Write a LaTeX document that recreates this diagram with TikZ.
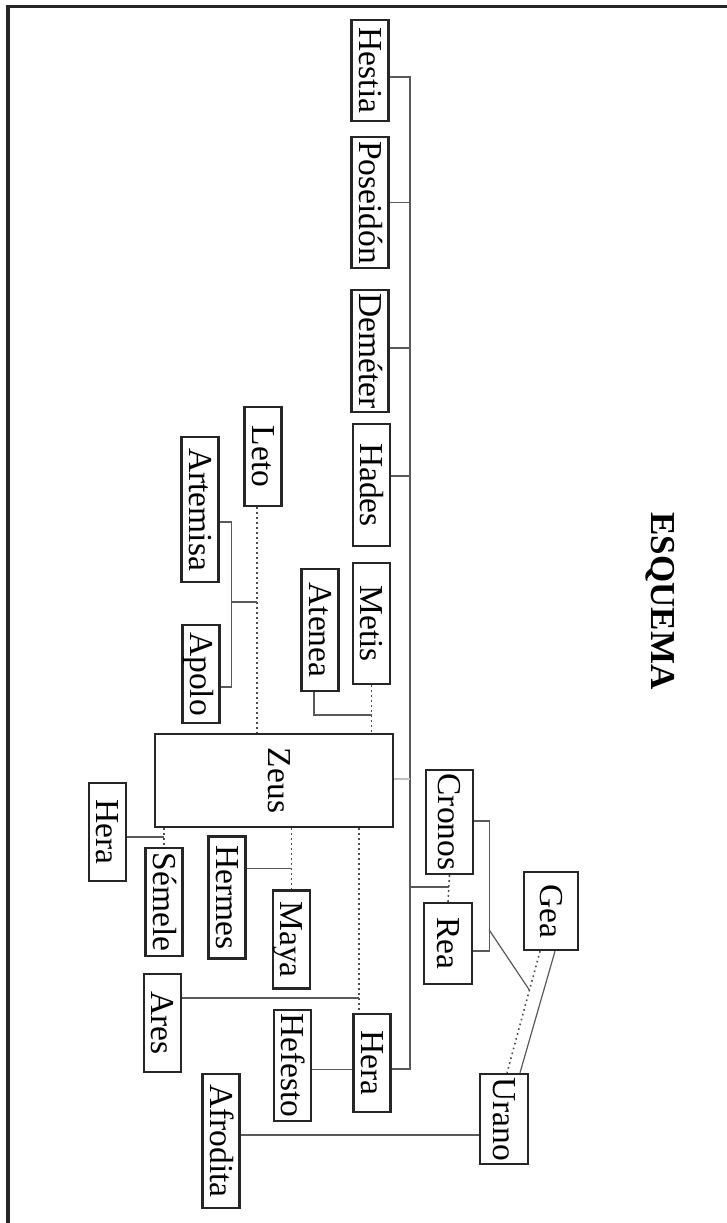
\documentclass[tikz,border=0pt]{standalone}
\usepackage{fontspec}
\setmainfont{Liberation Serif}
\usetikzlibrary{calc}
\begin{document}
\begin{tikzpicture}[x=1pt,y=-1pt,
  god/.style={draw=black!85, line width=2.4pt, rotate=-90, inner sep=0pt,
    minimum height=37pt, text height=22pt, text depth=0pt,
    font=\fontsize{33.5}{40}\selectfont},
  link/.style={draw=black!65, line width=1.2pt},
  faint/.style={draw=black!25, line width=1.2pt},
  dotline/.style={draw=black!70, line width=1.6pt, dash pattern=on 1.6pt off 3.4pt}]
\useasboundingbox (0,0) rectangle (727,1223);
\draw[line width=3.2pt, black!85] (8,1223) -- (8,6.5) -- (727,6.5);

% title
\node[rotate=-90, inner sep=0pt, text height=23pt, text depth=0pt,
  font=\fontsize{35}{40}\selectfont\bfseries] (title) at (662.5,601) {ESQUEMA};

% nodes
\node[god, minimum width=101pt] (Hestia)   at (370,70.5)  {Hestia};
\node[god, minimum width=131pt] (Poseidon) at (370,202.5) {Poseidón};
\node[god, minimum width=122pt] (Demeter)  at (370,351)   {Deméter};
\node[god, minimum width=122pt] (Hades)    at (371.5,485) {Hades};
\node[god, minimum width=121pt] (Metis)    at (371.5,623.5) {Metis};
\node[god, minimum width=99pt]  (Leto)     at (263,456.5) {Leto};
\node[god, minimum width=145pt] (Artemisa) at (200,509.5) {Artemisa};
\node[god, minimum width=98pt]  (Apolo)    at (201,674)   {Apolo};
\node[god, minimum width=122pt] (Atenea)   at (320,630)   {Atenea};
\node[god, minimum width=93pt, minimum height=238pt, text depth=10pt] (Zeus) at (274,780.5) {Zeus\hspace{14pt}};
\node[god, minimum width=98pt]  (HeraL)    at (107.5,832) {Hera};
\node[god, minimum width=108pt] (Semele)   at (164,902)   {Sémele};
\node[god, minimum width=122pt] (Hermes)   at (227,897.5) {Hermes};
\node[god, minimum width=98pt]  (Maya)     at (291.5,939.5) {Maya};
\node[god, minimum width=98pt]  (Ares)     at (162.5,1023) {Ares};
\node[god, minimum width=111pt] (Hefesto)  at (292.5,1065.5) {Hefesto};
\node[god, minimum width=98pt]  (HeraR)    at (372,1063)  {Hera};
\node[god, minimum width=134pt] (Afrodita) at (221,1141)  {Afrodita};
\node[god, minimum width=104pt, minimum height=47pt] (Cronos) at (449.5,822) {Cronos};
\node[god, minimum width=81pt,  minimum height=48pt] (Rea)    at (448,943.5) {Rea};
\node[god, minimum width=78pt,  minimum height=54pt] (Gea)    at (551,911)   {Gea};
\node[god, minimum width=90pt,  minimum height=48pt] (Urano)  at (504,1119)  {Urano};

% trunk of the children of Cronos and Rea
\coordinate (t0) at (410,77);
\coordinate (tb) at (410,1069);
\draw[link] (Hestia.north |- t0) -- (t0) -- (tb) -- (HeraR.north |- tb);
\draw[link] (Poseidon.north) -- (Poseidon.north -| t0);
\draw[link] ([yshift=3pt]Demeter.north) coordinate (dm) -- (dm -| t0);
\draw[link] ([yshift=9pt]Hades.north) coordinate (hd) -- (hd -| t0);
\draw[faint] ([yshift=1.5pt]Zeus.north) coordinate (zs) -- (zs -| t0);

% Cronos and Rea
\draw[dotline] (Cronos.east) -- (Rea.west);
\coordinate (cr) at (449,887);
\draw[link] (cr -| t0) -- (cr);
\draw[link] ([yshift=1pt]Cronos.north) -- ++(15,0) coordinate (bk)
  |- ([yshift=-7.5pt]Rea.north);

% Gea and Urano
\draw[dotline] ([xshift=-11pt]Gea.east) coordinate (g1) -- ([xshift=3pt]Urano.west) coordinate (u1);
\draw[link] ([xshift=4pt]Gea.east) -- ([xshift=16pt]Urano.west);
\coordinate (gm) at ($(g1)!0.32!(u1)$);
\draw[link] (bk |- 0,930) -- (gm);
\draw[link] ([yshift=6pt]Afrodita.north) coordinate (af) -- (af -| Urano.south);

% Leto, Artemisa, Apolo
\draw[dotline] ([xshift=-6pt]Leto.east) coordinate (lt) -- (lt |- Zeus.west);
\draw[link] ([yshift=-12.5pt]Artemisa.north) -- ++(12,0) coordinate (ab)
  |- ([yshift=-13pt]Apolo.north);
\draw[link] (ab |- 0,602) -- (lt |- 0,602);

% Metis, Atenea
\draw[dotline] (Metis.east) coordinate (mt) -- (mt |- Zeus.west);
\draw[link] ([xshift=-6pt]Atenea.east) |- (mt |- 0,715);

% Hera, Semele
\draw[dotline] (Semele.west |- Zeus.east) -- (Semele.west);
\draw[link] ([yshift=-5pt]HeraL.north) coordinate (hl) -- (hl -| Semele.west);

% Hermes, Maya
\draw[dotline] (Maya.west |- Zeus.east) -- (Maya.west);
\draw[link] ([yshift=29pt]Hermes.north) coordinate (hm) -- (hm -| Maya.west);

% Ares, Hera, Hefesto
\draw[dotline] ([xshift=-13pt]HeraR.west) coordinate (hr) (hr |- Zeus.east) -- (hr);
\draw[link] ([yshift=25pt]Ares.north) coordinate (ar) -- (ar -| hr);
\draw[link] ([yshift=-4pt]Hefesto.north) coordinate (hf) -- (hf -| HeraR.south);
\end{tikzpicture}
\end{document}
